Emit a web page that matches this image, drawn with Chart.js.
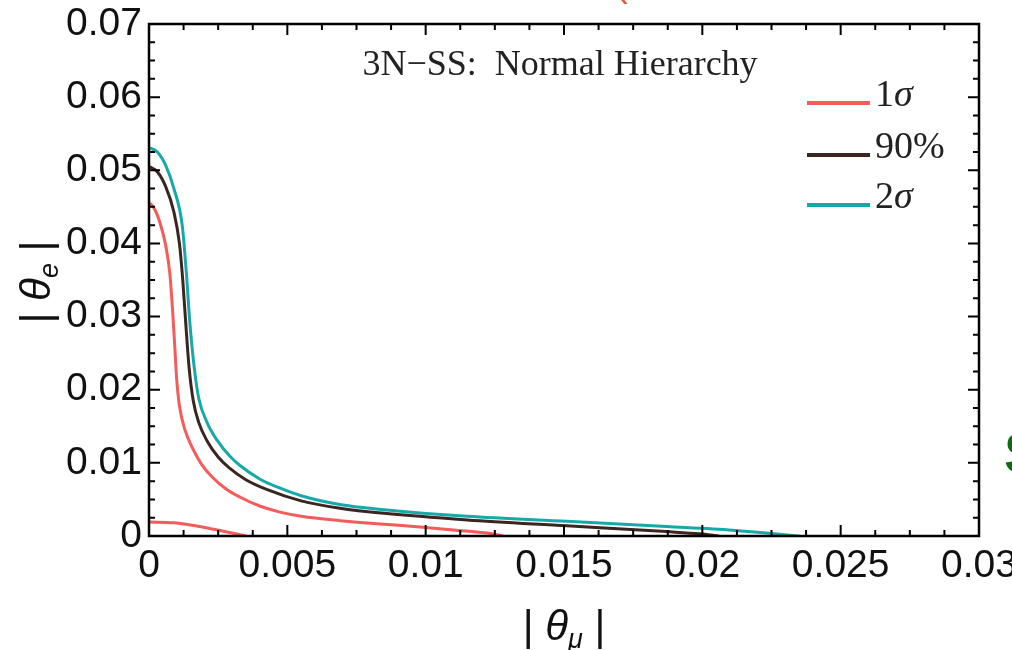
<!DOCTYPE html>
<html lang="en">

<head>
    <meta charset="UTF-8">
    <title>3N-SS: Normal Hierarchy</title>
    <script src="https://cdn.jsdelivr.net/npm/chart.js@4.4.1/dist/chart.umd.min.js"></script>
    <style>
        body {
            margin: 0;
            background: #fff;
            overflow: hidden;
        }

        #wrap {
            position: relative;
            width: 1012px;
            height: 650px;
        }

        #side {
            position: absolute;
            left: 1004px;
            top: 424px;
            font-family: "Liberation Sans", Arial, sans-serif;
            font-weight: bold;
            font-size: 58px;
            line-height: 1;
            color: #0d6b12;
        }

        #topmark {
            position: absolute;
            left: 615px;
            top: -36px;
            font-family: "Liberation Sans", Arial, sans-serif;
            font-size: 38px;
            line-height: 1;
            color: #e4572e;
        }
    </style>
</head>

<body>
    <div id="wrap">
        <canvas id="myChart"></canvas>
        <div id="side">S</div>
        <div id="topmark">(</div>
    </div>

    <script>
        // tick values and labels
        const xTicks = [0, 0.005, 0.01, 0.015, 0.02, 0.025, 0.03];
        const xTickLabels = ['0', '0.005', '0.01', '0.015', '0.02', '0.025', '0.03'];
        const yTicks = [0, 0.01, 0.02, 0.03, 0.04, 0.05, 0.06, 0.07];
        const yTickLabels = ['0', '0.01', '0.02', '0.03', '0.04', '0.05', '0.06', '0.07'];

        // 1 sigma, upper branch
        const sig1X = [0, 0.0002, 0.0004, 0.0006, 0.00075, 0.00085, 0.00093, 0.001, 0.0011, 0.0013, 0.0016, 0.0019, 0.0023, 0.0028, 0.0033, 0.004, 0.0047, 0.0055, 0.0069, 0.0085, 0.0099, 0.0111, 0.0124, 0.0128];
        const sig1Y = [0.0456, 0.0447, 0.0428, 0.0398, 0.036, 0.031, 0.026, 0.0215, 0.0178, 0.0145, 0.0118, 0.0098, 0.008, 0.0064, 0.0053, 0.0041, 0.0033, 0.0027, 0.0021, 0.0016, 0.0012, 0.0008, 0.0003, 0];
        // 1 sigma, lower island
        const sig1LowX = [0, 0.0009, 0.0015, 0.0021, 0.003, 0.0035];
        const sig1LowY = [0.0019, 0.0018, 0.0015, 0.0011, 0.0004, 0];
        // 90%
        const c90X = [0, 0.0003, 0.0006, 0.0009, 0.0011, 0.00122, 0.00133, 0.00145, 0.0016, 0.0018, 0.0021, 0.0025, 0.0029, 0.0035, 0.0043, 0.0055, 0.0069, 0.0085, 0.0115, 0.0151, 0.0187, 0.0199, 0.0206];
        const c90Y = [0.0505, 0.0498, 0.0478, 0.0443, 0.04, 0.035, 0.029, 0.023, 0.0185, 0.0155, 0.013, 0.0108, 0.0093, 0.0077, 0.0063, 0.0048, 0.0038, 0.0031, 0.0022, 0.0014, 0.0006, 0.0003, 0];
        // 2 sigma
        const sig2X = [0, 0.0003, 0.0006, 0.0009, 0.0012, 0.00135, 0.00148, 0.00163, 0.0018, 0.0021, 0.00246, 0.0029, 0.0033, 0.004, 0.0047, 0.0055, 0.0069, 0.0085, 0.0115, 0.0151, 0.0187, 0.0211, 0.0235];
        const sig2Y = [0.0531, 0.0525, 0.0507, 0.0475, 0.0425, 0.036, 0.029, 0.0232, 0.0188, 0.0155, 0.0131, 0.011, 0.0096, 0.0078, 0.0066, 0.0055, 0.0043, 0.0036, 0.0027, 0.002, 0.0013, 0.0008, 0];

        const red = '#f45b5b', dark = '#3a2520', teal = '#17a9a9';

        function pts(xs, ys)
        {
            return xs.map((x, i) => ({ x: x, y: ys[i] }));
        }

        function line(label, xs, ys, color)
        {
            return {
                label: label,
                data: pts(xs, ys),
                borderColor: color,
                backgroundColor: color,
                borderWidth: 3,
                pointRadius: 0,
                cubicInterpolationMode: 'monotone'
            };
        }

        // draw text made of several runs (fonts / offsets)
        function drawRuns(ctx, x, y, runs, align)
        {
            let w = 0;
            runs.forEach(r => { ctx.font = r.font; w += ctx.measureText(r.t).width; });
            let cx = align === 'center' ? x - w / 2 : x;
            ctx.textAlign = 'left';
            runs.forEach(r =>
            {
                ctx.font = r.font;
                ctx.fillText(r.t, cx, y + (r.dy || 0));
                cx += ctx.measureText(r.t).width;
            });
        }

        const frame = {
            id: 'frame',
            afterDraw(chart)
            {
                const ctx = chart.ctx;
                const a = chart.chartArea;
                const xs = chart.scales.x, ys = chart.scales.y;
                ctx.save();
                ctx.strokeStyle = '#000';
                ctx.fillStyle = '#111';

                // ticks, inward on all sides
                ctx.lineWidth = 2;
                ctx.beginPath();
                for (let i = 0; i <= 24; i++)
                {
                    const px = xs.getPixelForValue(i * 0.00125);
                    const len = i % 4 === 0 ? 11 : 6;
                    ctx.moveTo(px, a.bottom); ctx.lineTo(px, a.bottom - len);
                    ctx.moveTo(px, a.top); ctx.lineTo(px, a.top + len);
                }
                for (let i = 0; i <= 28; i++)
                {
                    const py = ys.getPixelForValue(i * 0.0025);
                    const len = i % 4 === 0 ? 11 : 6;
                    ctx.moveTo(a.left, py); ctx.lineTo(a.left + len, py);
                    ctx.moveTo(a.right, py); ctx.lineTo(a.right - len, py);
                }
                ctx.stroke();
                ctx.lineWidth = 2.5;
                ctx.strokeRect(a.left, a.top, a.right - a.left, a.bottom - a.top);

                // tick labels
                ctx.font = '39px "Liberation Sans", Arial, sans-serif';
                ctx.textAlign = 'center';
                ctx.textBaseline = 'top';
                xTicks.forEach((v, i) => ctx.fillText(xTickLabels[i], xs.getPixelForValue(v), a.bottom + 11));
                ctx.textAlign = 'right';
                ctx.textBaseline = 'middle';
                yTicks.forEach((v, i) => ctx.fillText(yTickLabels[i], a.left - 7, ys.getPixelForValue(v)));

                // axis titles
                ctx.textBaseline = 'alphabetic';
                const sans = '"Liberation Sans", Arial, sans-serif';
                drawRuns(ctx, (a.left + a.right) / 2, 640, [
                    { t: '| ', font: '42px ' + sans },
                    { t: 'θ', font: 'italic 42px ' + sans },
                    { t: 'μ', font: 'italic 27px ' + sans, dy: 8 },
                    { t: ' |', font: '42px ' + sans }
                ], 'center');
                ctx.save();
                ctx.translate(50, (a.top + a.bottom) / 2 + 2);
                ctx.rotate(-Math.PI / 2);
                drawRuns(ctx, 0, 0, [
                    { t: '| ', font: '42px ' + sans },
                    { t: 'θ', font: 'italic 42px ' + sans },
                    { t: 'e', font: 'italic 27px ' + sans, dy: 8 },
                    { t: ' |', font: '42px ' + sans }
                ], 'center');
                ctx.restore();

                // inner title
                const serif = '"Liberation Serif", "Times New Roman", serif';
                ctx.fillStyle = '#222';
                ctx.font = '36px ' + serif;
                ctx.textAlign = 'center';
                ctx.fillText('3N\u2212SS:  Normal Hierarchy', 560, 75);

                // legend
                const legend = [
                    { color: red, y: 103, runs: [{ t: '1', font: '38px ' + serif }, { t: 'σ', font: 'italic 38px ' + serif }] },
                    { color: dark, y: 155, runs: [{ t: '90%', font: '38px ' + serif }] },
                    { color: teal, y: 205, runs: [{ t: '2', font: '38px ' + serif }, { t: 'σ', font: 'italic 38px ' + serif }] }
                ];
                legend.forEach(l =>
                {
                    ctx.strokeStyle = l.color;
                    ctx.lineWidth = 4;
                    ctx.beginPath();
                    ctx.moveTo(807, l.y); ctx.lineTo(870, l.y);
                    ctx.stroke();
                    drawRuns(ctx, 875, l.y + 3, l.runs, 'left');
                });
                ctx.restore();
            }
        };

        const ctx = document.getElementById('myChart').getContext('2d');
        new Chart(ctx, {
            type: 'line',
            data: {
                datasets: [
                    line('1σ', sig1X, sig1Y, red),
                    line('1σ island', sig1LowX, sig1LowY, red),
                    line('90%', c90X, c90Y, dark),
                    line('2σ', sig2X, sig2Y, teal)
                ]
            },
            options: {
                responsive: true,
                maintainAspectRatio: false,
                animation: false,
                layout: {
                    padding: { left: 149, right: 33, top: 24, bottom: 114 }
                },
                scales: {
                    x: { type: 'linear', min: 0, max: 0.03, display: false },
                    y: { type: 'linear', min: 0, max: 0.07, display: false }
                },
                plugins: {
                    legend: { display: false },
                    tooltip: { enabled: false }
                }
            },
            plugins: [frame]
        });
    </script>
</body>

</html>
